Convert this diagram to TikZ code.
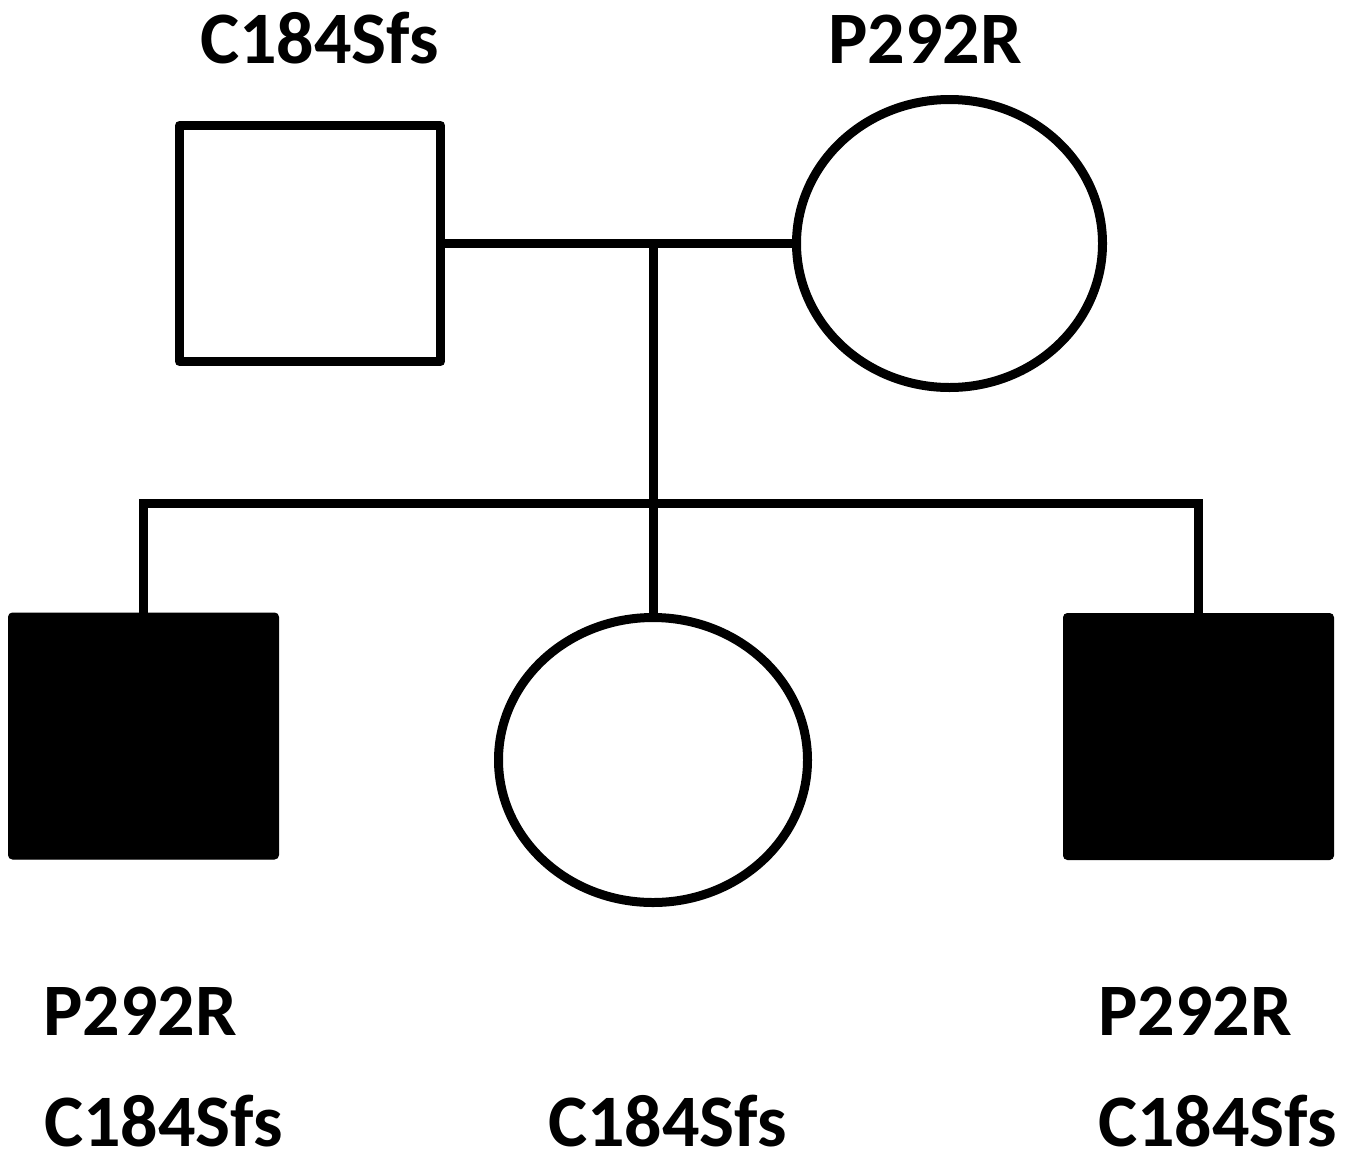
\documentclass[tikz,border=0pt]{standalone}
\usepackage{fontspec}
\setmainfont{Carlito}
\usetikzlibrary{shapes.geometric}
\begin{document}
\begin{tikzpicture}[x=1pt,y=-1pt,
  line width=9pt,
  male/.style={draw, rectangle, line width=9pt, line join=round, minimum width=261pt, minimum height=236pt, inner sep=0pt},
  female/.style={draw, ellipse, line width=9pt, inner sep=0pt},
  affected/.style={draw, fill=black, rectangle, line width=1pt, rounded corners=4pt, minimum width=270pt, minimum height=246pt, inner sep=0pt},
  lbl/.style={anchor=base, inner sep=0pt, font=\fontsize{74}{74}\selectfont\bfseries}]
\useasboundingbox (0,0) rectangle (1356,1165);
% parents
\node[male] (father) at (310,243.5) {};
\node[female, minimum width=306pt, minimum height=288pt] (mother) at (949.5,243.5) {};
% children
\node[affected] (c1) at (143.5,736) {};
\node[female, minimum width=309pt, minimum height=285pt] (c2) at (653,760) {};
\node[affected] (c3) at (1198.5,736.5) {};
% connectors
\coordinate (m) at (653,243);
\coordinate (s) at (653,503.5);
\draw (father.east) -- (mother.west);
\draw (m) -- (c2.north);
\draw (c1.north) |- (s) -| (c3.north);
% labels
\node[lbl] (t1) at (319.5,63) {C184Sfs};
\node[lbl] (t2) at (925,63) {P292R};
\node[lbl] (t3) at (140,1035) {P292R};
\node[lbl] (t4) at (163.5,1146) {C184Sfs};
\node[lbl] (t5) at (667.5,1146) {C184Sfs};
\node[lbl] (t6) at (1195,1035) {P292R};
\node[lbl] (t7) at (1217.5,1146) {C184Sfs};
\end{tikzpicture}
\end{document}
